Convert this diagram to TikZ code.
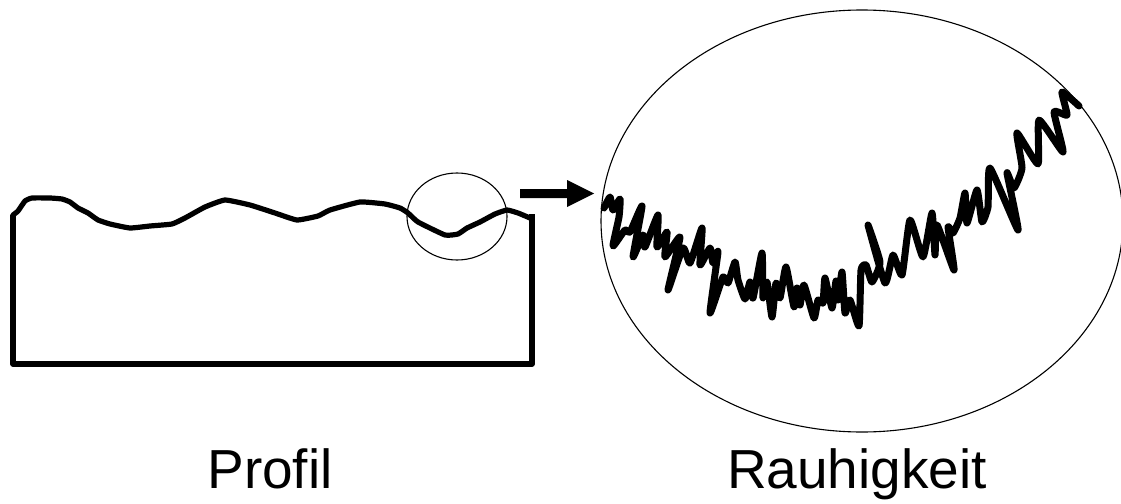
\documentclass[tikz,border=0pt]{standalone}
\usepackage{fontspec}
\setmainfont{Liberation Sans}
\tikzset{
  profile/.style={draw=black,line width=5.2pt,line join=round,line cap=round},
  rough/.style={draw=black,line width=7pt,line join=round,line cap=round},
  thin ring/.style={draw=black,line width=1.1pt},
  caption/.style={anchor=base,inner sep=0pt,font=\fontsize{55}{60}\selectfont}
}
\begin{document}
\begin{tikzpicture}[x=1pt,y=-1pt]
\useasboundingbox (0,0) rectangle (1121,503);
\begin{scope}
\clip (0,0) rectangle (1121,503);
\draw[thin ring] (457,216.5) ellipse [x radius=50,y radius=43.5];
\draw[thin ring] (862,221) ellipse [x radius=261,y radius=211];
\end{scope}
\draw[profile,line cap=butt] (532,214) -- (532,364) -- (13,364) -- (13,215);
\draw[profile] plot[smooth,tension=0.25] coordinates {(13,215) (18,211) (25,201) (32,198) (50,198) (62,199) (70,202) (78,208) (88,213) (98,220) (110,224) (130,228) (150,226) (172,224) (185,218) (205,207) (225,200) (250,205) (275,213) (297,220) (318,216) (330,210) (360,202) (385,204) (400,208) (408,213) (418,222) (445,235) (458,234) (467,228) (480,222) (495,214) (507,210) (518,213) (530,218)};
\fill[black] (520,189) -- (567,189) -- (567,180) -- (594,193.5) -- (567,207) -- (567,198) -- (520,198) -- cycle;
\draw[rough] plot[smooth,tension=0.3] coordinates {(604,208) (610,197) (613,210) (620,199) (619,217) (613,246) (625,230) (630,232) (642,206) (633,257) (643,235) (645,247) (658,215) (657,247) (667,232) (665,257) (680,237) (668,290) (683,248) (690,263) (702,228) (700,265) (710,248) (713,263) (718,252) (710,313) (723,277) (728,283) (735,262) (738,280) (745,299) (750,282) (753,298) (762,253) (763,298) (767,282) (772,317) (776,283) (780,298) (786,267) (794,307) (797,288) (800,305) (804,285) (814,318) (818,300) (823,303) (825,278) (832,308) (836,281) (838,300) (842,272) (845,313) (850,300) (859,326) (861,270) (866,265) (872,282) (880,262) (868,225) (885,283) (893,255) (902,275) (910,220) (923,257) (932,213) (935,255) (937,225) (954,270) (948,227) (953,233) (960,218) (965,193) (967,223) (977,190) (982,222) (988,207) (990,168) (1018,230) (1007,173) (1014,188) (1022,168) (1017,133) (1038,164) (1039,120) (1063,152) (1054,112) (1067,115) (1062,92) (1079,106)};
\node[caption] (profil) at (270,488) {Profil};
\node[caption] (rauh) at (857,488) {Rauhigkeit};
\end{tikzpicture}
\end{document}
